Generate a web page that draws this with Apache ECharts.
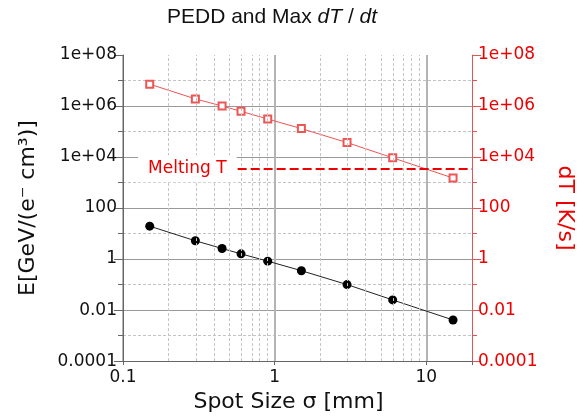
<!DOCTYPE html>
<html>
<head>
<meta charset="utf-8">
<script src="https://cdn.jsdelivr.net/npm/echarts@6/dist/echarts.min.js"></script>
<style>
html, body { margin: 0; padding: 0; background: #fff; }
#chart { width: 584px; height: 418px; }
</style>
</head>
<body>
<div id="chart"></div>
<script>
// spot size sigma [mm]
var spot = [0.15, 0.3, 0.45, 0.6, 0.9, 1.5, 3, 6, 15];
// PEDD E[GeV/(e- cm3)]
var pedd = [19.5, 5.2, 2.6, 1.6, 0.83, 0.35, 0.1, 0.025, 0.0041];
// max dT/dt [K/s]
var dTdt = [7.2e6, 1.9e6, 1.0e6, 6.2e5, 3.1e5, 1.3e5, 3.7e4, 9.3e3, 1.5e3];
var meltingT = 3500;
var meltStart = 0.57;
var xMin = 0.1, xMax = 20;
var xTickLabels = ['0.1', '1', '10'];
var yTickLabels = ['0.0001', '0.01', '1', '100', '1e+04', '1e+06', '1e+08'];
var xMinorGrid = [0.2, 0.3, 0.4, 0.5, 0.6, 0.7, 0.8, 0.9, 2, 3, 4, 5, 6, 7, 8, 9];

var lg = Math.log10;
var font = 'DejaVu Sans';

function yLabel(v) {
    var i = (v + 4) / 2;
    return Number.isInteger(i) ? (yTickLabels[i] || '') : '';
}

var yBase = {
    type: 'value',
    min: -4,
    max: 8,
    interval: 2,
    nameLocation: 'middle'
};

echarts.init(document.getElementById('chart')).setOption({
    animation: false,
    backgroundColor: '#fff',
    title: {
        text: 'PEDD and Max {i|dT} / {i|dt}',
        left: 162,
        top: 2,
        textStyle: {
            fontFamily: 'Liberation Sans',
            fontSize: 21,
            fontWeight: 'normal',
            color: '#111',
            rich: {
                i: { fontFamily: 'Liberation Sans', fontSize: 21, fontStyle: 'italic', color: '#111' }
            }
        }
    },
    grid: { left: 123, right: 103, top: 55, bottom: 56 },
    xAxis: {
        type: 'value',
        min: lg(xMin),
        max: lg(xMax),
        interval: 1,
        name: 'Spot Size σ [mm]',
        nameLocation: 'middle',
        nameGap: 28,
        nameTextStyle: { fontFamily: font, fontSize: 22, color: '#111', padding: [0, 18, 0, 0] },
        axisLine: { onZero: false, lineStyle: { color: '#666' } },
        axisTick: { length: 4, lineStyle: { color: '#666' } },
        axisLabel: {
            fontFamily: font, fontSize: 17, color: '#111', margin: 8,
            formatter: function (v) {
                var i = Math.round(v) + 1;
                return Math.abs(v - Math.round(v)) < 1e-9 ? (xTickLabels[i] || '') : '';
            }
        },
        splitLine: { show: true, showMaxLine: false, lineStyle: { color: '#b4b4b4', width: 2 } }
    },
    yAxis: [
        Object.assign({}, yBase, {
            position: 'left',
            name: 'E[GeV/(e⁻ cm³)]',
            nameGap: 84,
            nameTextStyle: { fontFamily: font, fontSize: 22, color: '#111' },
            axisLine: { show: true, onZero: false, lineStyle: { color: '#666' } },
            axisTick: { show: true, length: 9, lineStyle: { color: '#666' } },
            minorTick: { show: true, splitNumber: 2, length: 5, lineStyle: { color: '#666' } },
            axisLabel: { fontFamily: font, fontSize: 17, margin: 6, color: '#111', formatter: yLabel },
            splitLine: { show: true, showMaxLine: false, lineStyle: { color: '#999' } },
            minorSplitLine: { show: true, lineStyle: { color: '#c4c4c4', type: [3, 2] } }
        }),
        Object.assign({}, yBase, {
            position: 'right',
            name: 'dT [K/s]',
            nameRotate: -90,
            nameGap: 82,
            nameTextStyle: { fontFamily: font, fontSize: 22, color: '#e00' },
            axisLine: { show: true, onZero: false, lineStyle: { color: '#d55' } },
            axisTick: { show: true, length: 9, lineStyle: { color: '#d55' } },
            minorTick: { show: true, splitNumber: 2, length: 5, lineStyle: { color: '#d55' } },
            axisLabel: { fontFamily: font, fontSize: 17, margin: 6, color: '#e00', formatter: yLabel },
            splitLine: { show: false }
        })
    ],
    series: [
        {
            name: 'PEDD',
            type: 'line',
            yAxisIndex: 0,
            data: spot.map(function (s, i) { return [lg(s), lg(pedd[i])]; }),
            symbol: 'circle',
            symbolSize: 9,
            lineStyle: { color: '#222', width: 1 },
            itemStyle: { color: '#000' },
            markLine: {
                silent: true,
                symbol: 'none',
                label: { show: false },
                lineStyle: { color: '#c4c4c4', type: [3, 2], width: 1 },
                data: xMinorGrid.map(function (v) { return { xAxis: lg(v) }; })
            },
            z: 3
        },
        {
            name: 'dT/dt',
            type: 'line',
            yAxisIndex: 1,
            data: spot.map(function (s, i) { return [lg(s), lg(dTdt[i])]; }),
            symbol: 'emptyRect',
            symbolSize: 7,
            lineStyle: { color: '#e55', width: 1 },
            itemStyle: { color: '#e55', borderWidth: 1 },
            markLine: {
                silent: true,
                symbol: 'none',
                lineStyle: { color: '#e00', width: 2.2, type: [9, 4] },
                label: {
                    show: true,
                    position: 'start',
                    formatter: 'Melting T',
                    fontFamily: font,
                    fontSize: 17,
                    color: '#e00',
                    backgroundColor: '#fff',
                    padding: [5, 10],
                    distance: 1
                },
                data: [[
                    { coord: [lg(meltStart), lg(meltingT)] },
                    { coord: [lg(xMax), lg(meltingT)] }
                ]]
            },
            z: 4
        }
    ]
});
</script>
</body>
</html>
